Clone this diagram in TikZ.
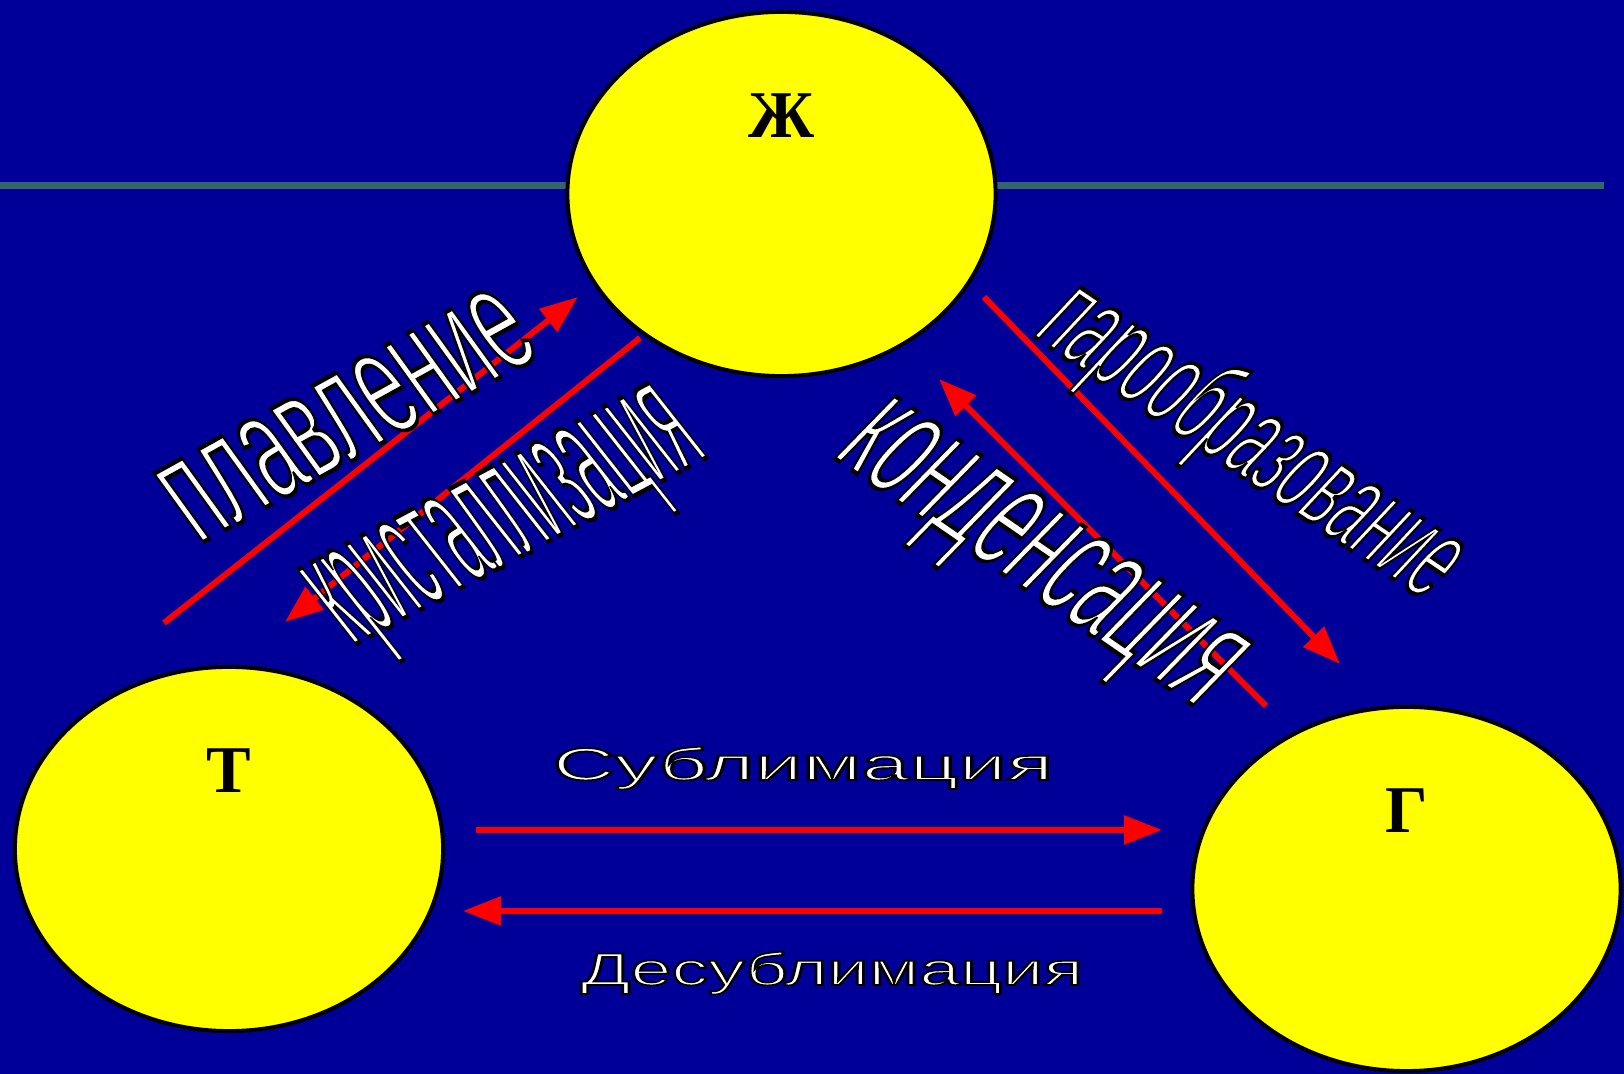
\documentclass[tikz,border=0pt]{standalone}
\usepackage{fontspec}
\setmainfont{Liberation Sans}
\newfontfamily\bukvafont{Liberation Serif}
\usepackage{graphicx}
\usetikzlibrary{arrows.meta,shapes.geometric,positioning}
\definecolor{fon}{RGB}{0,0,153}
\definecolor{liniya}{RGB}{51,102,102}
\definecolor{krasn}{RGB}{255,0,0}
\definecolor{zhelt}{RGB}{255,255,0}
% weisse Schrift mit schwarzer Kontur
\newcommand{\kontur}[2]{{\color{white}\special{pdf:literal direct 2 Tr 0 G #1 w}#2\special{pdf:literal direct 0 Tr}}}
\newcommand{\nadp}[4][1.1]{\resizebox{#2}{\height}{\fontsize{#3}{#3}\selectfont\kontur{#1}{#4}}}

\begin{document}
\begin{tikzpicture}[x=0.01cm, y=-0.01cm,
  faza/.style={ellipse, draw=black, line width=0.4mm, fill=zhelt,
               minimum width=4.28cm, minimum height=3.64cm, inner sep=0pt},
  bukva/.style={font=\bukvafont\bfseries\fontsize{19pt}{19pt}\selectfont, inner sep=0pt},
  strelka/.style={-{Triangle[length=3.8mm, width=2.8mm]}, line width=0.6mm, krasn},
  nadpis/.style={anchor=base west, inner sep=0pt}
]

% ---------- fon, liniya ------------------------------------------
\fill[fon] (0,0) rectangle (1624,1074);
\useasboundingbox (0,0) rectangle (1624,1074);
\draw[liniya, line width=0.7mm] (0,186) -- (1604,186);

% ---------- tri sostoyaniya --------------------------------------
\node[faza] (zh) at (781.5,194) {};
\node[faza] (tv) at (229,849) {};
\node[faza] (gaz) at (1406.5,889) {};
\node[bukva] (zh-b) at ([yshift=0.78cm]zh.center) {Ж};
\node[bukva] (tv-b) at ([yshift=0.78cm]tv.center) {Т};
\node[bukva] (gaz-b) at ([yshift=0.78cm]gaz.center) {Г};

% ---------- strelki ----------------------------------------------
\coordinate (pl-a) at (164,623);  \coordinate (pl-b) at (578,297);
\coordinate (kr-a) at (640,338);  \coordinate (kr-b) at (285,622);
\coordinate (pa-a) at (984,297);  \coordinate (pa-b) at (1340,664);
\coordinate (ko-a) at (1266,706); \coordinate (ko-b) at (939,379);
\coordinate (su-a) at (476,830);  \coordinate (su-b) at (1162,830);
\coordinate (de-a) at (1162,911); \coordinate (de-b) at (463,911);

\draw[strelka] (pl-a) -- (pl-b);
\draw[strelka] (kr-a) -- (kr-b);
\draw[strelka] (pa-a) -- (pa-b);
\draw[strelka] (ko-a) -- (ko-b);
\draw[strelka] (su-a) -- (su-b);
\draw[strelka] (de-a) -- (de-b);

% ---------- nadpisi ----------------------------------------------
\node[nadpis, rotate=29, xslant=-0.12] (plav) at (198,545)
  {\nadp[1.2]{3.95cm}{45pt}{плавление}};
\node[nadpis, rotate=28, xslant=-0.18] (krist) at (352,646)
  {\nadp[1.3]{4.05cm}{50pt}{кристаллизация}};
\node[nadpis, rotate=-34, xslant=0.16] (paro) at (1030,334)
  {\nadp[1.2]{4.75cm}{36pt}{парообразование}};
\node[nadpis, rotate=-34.6, xslant=0.17] (kond) at (830,455)
  {\nadp[1.2]{4.45cm}{46pt}{конденсация}};
\node[nadpis] (subl) at (552,780) {\nadp[0.5]{5.0cm}{13pt}{Сублимация}};
\node[nadpis] (desubl) at (580,985) {\nadp[0.5]{5.02cm}{13pt}{Десублимация}};

\end{tikzpicture}
\end{document}
